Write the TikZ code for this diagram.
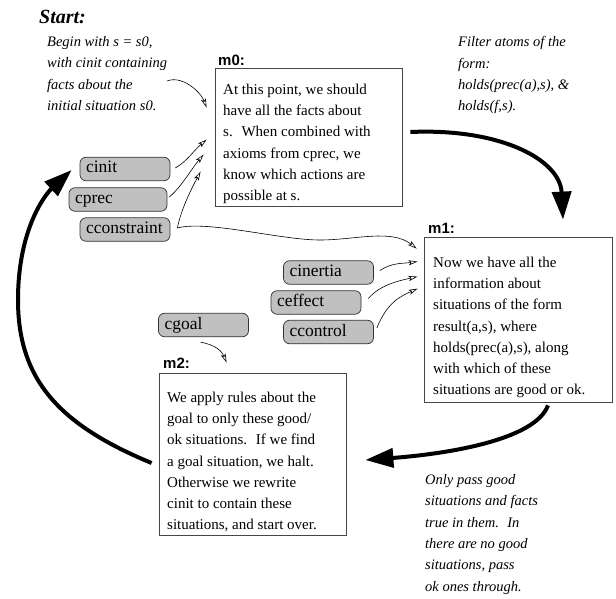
\documentclass[tikz,border=0pt]{standalone}
\usepackage{fontspec}
\setmainfont{Liberation Serif}
\setsansfont{Liberation Sans}
\usepackage{tikz}
\usetikzlibrary{arrows.meta,calc}
\definecolor{boxedge}{RGB}{70,70,70}
\definecolor{setfill}{RGB}{192,192,192}
\tikzset{
  mbox/.style={draw=boxedge, line width=0.8pt, inner sep=0pt},
  mlab/.style={font=\fontsize{15}{18}\selectfont\sffamily\bfseries, anchor=base west, inner sep=0pt},
  mtext/.style={font=\fontsize{15}{21.3}\selectfont, align=left, anchor=north west, inner sep=0pt},
  note/.style={font=\fontsize{14.5}{21.3}\selectfont\itshape, align=left, anchor=north west, inner sep=0pt},
  cset/.style={
    draw=black!80, fill=setfill, rounded corners=6pt, line width=0.7pt,
    minimum height=23.5pt, text width=78pt, inner xsep=6pt, inner ysep=0pt,
    text height=11.5pt, text depth=3.5pt, align=left, font=\fontsize{17.5}{20}\selectfont
  },
  feed/.style={-{Stealth[open,length=9pt,width=5pt,inset=2pt]}, line width=0.6pt},
  flow/.style={-{Triangle[length=28pt,width=19pt]}, line width=4pt}
}
\begin{document}
\begin{tikzpicture}[x=1pt,y=-1pt]
  \useasboundingbox (0,0) rectangle (616,599);
  % modules, pixel coordinates, y grows downwards
  \node[font=\fontsize{20}{24}\selectfont\bfseries\itshape, anchor=base west, inner sep=0pt] (start) at (39,23.5) {Start:};
  \node[note] (begin) at (47,36.3) {Begin with s = s0,\\with cinit containing\\facts about the\\initial situation s0.};
  \node[note] (filter) at (458,36.3) {Filter atoms of the\\form:\\holds(prec(a),s), \&\\holds(f,s).};
  \node[note] (only) at (425,474.3) {Only pass good\\situations and facts\\true in them.~ In\\there are no good\\situations, pass\\ok ones through.};

  \node[mbox, minimum width=187pt, minimum height=138pt] (m0) at (308.5,137) {};
  \node[mbox, minimum width=188pt, minimum height=165pt] (m1) at (518,319.5) {};
  \node[mbox, minimum width=187pt, minimum height=162pt] (m2) at (252.5,454) {};
  \node[mlab] (m0lab) at (218,65.5) {m0:};
  \node[mlab] (m1lab) at (428,233.5) {m1:};
  \node[mlab] (m2lab) at (163,368.5) {m2:};
  \node[mtext] (m0txt) at (223,83.5) {At this point, we should\\have all the facts about\\s.~ When combined with\\axioms from cprec, we\\know which actions are\\possible at s.};
  \node[mtext] (m1txt) at (433,256.5) {Now we have all the\\information about\\situations of the form\\result(a,s), where\\holds(prec(a),s), along\\with which of these\\situations are good or ok.};
  \node[mtext] (m2txt) at (167,391.5) {We apply rules about the\\goal to only these good/\\ok situations.~ If we find\\a goal situation, we halt.\\Otherwise we rewrite\\cinit to contain these\\situations, and start over.};

  \node[cset] (cinit) at (125,169) {cinit};
  \node[cset, text width=86pt] (cprec) at (118,199.5) {cprec};
  \node[cset] (cconstraint) at (125,229.5) {cconstraint};
  \node[cset] (cinertia) at (328.5,272.5) {cinertia};
  \node[cset] (ceffect) at (316,302.5) {ceffect};
  \node[cset] (ccontrol) at (328.5,332) {ccontrol};
  \node[cset] (cgoal) at (203.5,325) {cgoal};

  \coordinate (s0tail) at (167,81);
  \coordinate (cc) at ($(cconstraint.east)+(7,-1.5)$);
  \coordinate (wave) at (320,240);
  \coordinate (loopL) at (18,300);

  % thin feeds
  \draw[feed] (s0tail) .. controls +(15,-6) and +(-6,-16) .. ($(m0.north west)+(-8,40)$);
  \draw[feed] ($(cinit.east)+(5,-1)$) .. controls +(12,-7) and +(-12,10) .. ($(m0.north west)+(-8,72)$);
  \draw[feed] ($(cprec.east)+(2,-2.5)$) .. controls +(12,-10) and +(-12,14) .. ($(m0.north west)+(-11,87)$);
  \draw[feed] (cc) .. controls +(4,-20) and +(-8,15) .. ($(m0.north west)+(-14,104)$);
  \draw[feed] (cc) .. controls +(30,-8) and +(-40,0) .. (wave)
    .. controls +(35,0) and +(-25,-20) .. ($(m1.north west)+(-7,12)$);
  \draw[feed] ($(cinertia.east)+(6,-2)$) .. controls +(12,-8) and +(-15,2) .. ($(m1.north west)+(-6,25)$);
  \draw[feed] ($(ceffect.east)+(7,-4)$) .. controls +(12,-14) and +(-18,4) .. ($(m1.north west)+(-6,40)$);
  \draw[feed] ($(ccontrol.east)+(3,-4)$) .. controls +(10,-25) and +(-18,8) .. ($(m1.north west)+(-6,52)$);
  \draw[feed] ($(cgoal.south)+(-3,5)$) .. controls +(15,3) and +(-5,-12) .. ($(m2.north west)+(68,-10)$);

  % thick flow between modules
  \draw[flow] ($(m0.east)+(8,-5)$) .. controls +(90,-4) and +(-3,-60) .. ($(m1.north)+(45,-17)$);
  \draw[flow] ($(m1.south)+(30,3)$) .. controls +(-13,35) and +(80,-6) .. ($(m2.east)+(19,6)$);
  \draw[flow] ($(m2.west)+(-7,9)$) .. controls +(-92,-38) and +(0,80) .. (loopL)
    .. controls +(0,-70) and +(-27,25) .. ($(cinit.west)+(-8,1)$);
\end{tikzpicture}
\end{document}
